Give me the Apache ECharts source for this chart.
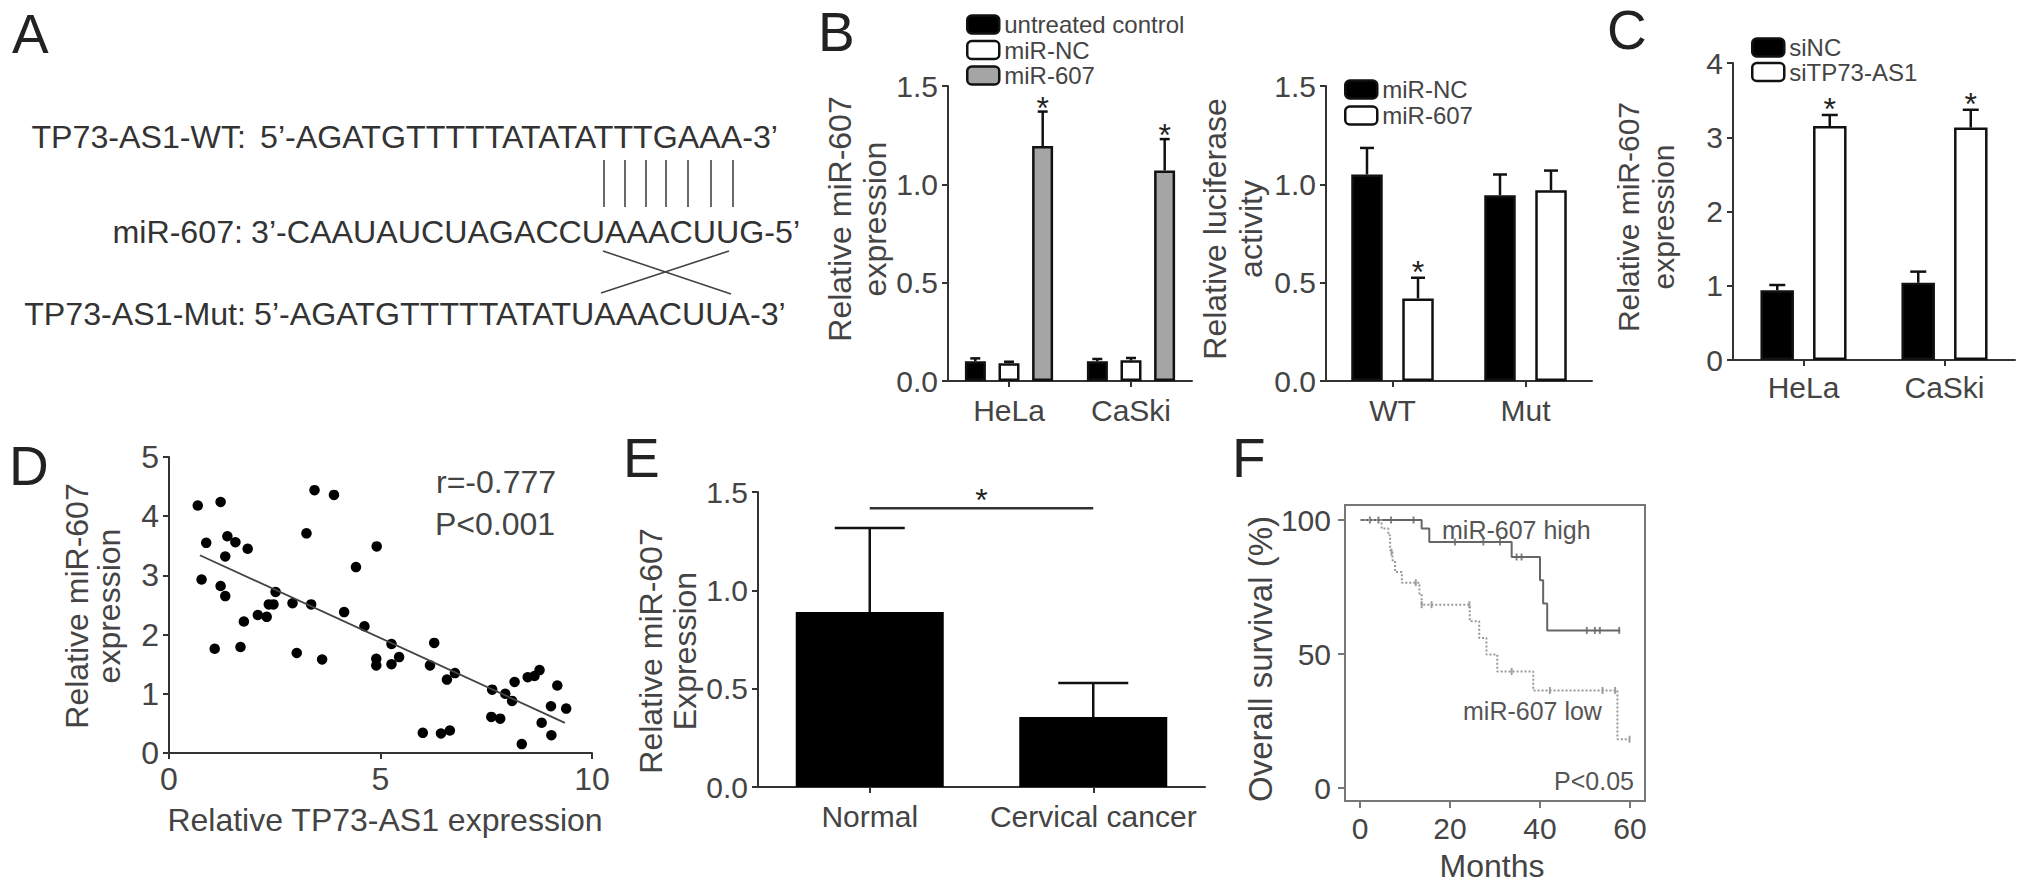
<!DOCTYPE html>
<html><head><meta charset="utf-8">
<script src="https://cdn.jsdelivr.net/npm/echarts@6/dist/echarts.min.js"></script>
<style>html,body{margin:0;padding:0;background:#fff}#c{width:2031px;height:889px}</style>
</head><body><div id="c"></div>
<script>
// ================= DATA =================
// Panel A (sequence text)
const seqLabels = ['TP73-AS1-WT:', 'miR-607:', 'TP73-AS1-Mut:'];
const seqTexts = ["5\u2019-AGATGTTTTTATATATTTGAAA-3\u2019", "3\u2019-CAAUAUCUAGACCUAAACUUG-5\u2019", "5\u2019-AGATGTTTTTATATUAAACUUA-3\u2019"];

// Panel B (left) – relative miR-607 expression
const bCategories = ['HeLa', 'CaSki'];
const bSeriesNames = ['untreated control', 'miR-NC', 'miR-607'];
const bUntreated = [0.10, 0.10];
const bUntreatedErr = [0.015, 0.012];
const bMiRNC = [0.09, 0.105];
const bMiRNCErr = [0.008, 0.012];
const bMiR607 = [1.195, 1.07];
const bMiR607Err = [0.175, 0.16];
const bMiR607Star = [1, 1];
const bYTicks = [0, 0.5, 1.0, 1.5];

// Panel B (right) – luciferase activity
const lucCategories = ['WT', 'Mut'];
const lucSeriesNames = ['miR-NC', 'miR-607'];
const lucNC = [1.05, 0.945];
const lucNCErr = [0.135, 0.105];
const luc607 = [0.42, 0.97];
const luc607Err = [0.105, 0.10];
const luc607Star = [1, 0];

// Panel C
const cCategories = ['HeLa', 'CaSki'];
const cSeriesNames = ['siNC', 'siTP73-AS1'];
const cSiNC = [0.94, 1.04];
const cSiNCErr = [0.07, 0.15];
const cSiTP = [3.15, 3.13];
const cSiTPErr = [0.15, 0.24];
const cSiTPStar = [1, 1];
const cYTicks = [0, 1, 2, 3, 4];

// Panel D – scatter [TP73-AS1, miR-607]
const dPoints = [
  [0.68,4.18],[1.22,4.24],[0.88,3.55],[1.38,3.66],[1.57,3.56],[1.86,3.45],[1.33,3.32],
  [0.77,2.93],[1.22,2.82],[1.33,2.65],[1.08,1.76],[1.77,2.22],[1.69,1.79],[2.10,2.33],
  [2.31,2.30],[2.36,2.51],[2.47,2.51],[2.52,2.72],[2.92,2.53],[3.36,2.51],[3.02,1.69],
  [3.44,4.44],[3.90,4.36],[3.25,3.71],[3.62,1.58],[4.14,2.38],[4.42,3.14],[4.62,2.14],
  [4.91,3.49],[4.90,1.59],[4.90,1.48],[5.26,1.84],[5.26,1.50],[5.44,1.62],[6.00,0.34],
  [6.17,1.48],[6.27,1.86],[6.43,0.33],[6.64,0.38],[6.57,1.24],[6.76,1.35],[7.64,1.07],
  [7.62,0.61],[7.83,0.58],[7.95,1.00],[8.11,0.88],[8.17,1.20],[8.34,0.15],[8.48,1.28],
  [8.64,1.30],[8.76,1.40],[8.81,0.51],[9.04,0.30],[9.03,0.79],[9.18,1.14],[9.39,0.75]
];
const dFitLine = [[0.73, 3.34], [9.36, 0.51]];
const dXTicks = [0, 5, 10];
const dYTicks = [0, 1, 2, 3, 4, 5];
const dStats = ['r=-0.777', 'P<0.001'];

// Panel E
const eCategories = ['Normal', 'Cervical cancer'];
const eValues = [0.89, 0.356];
const eErr = [0.427, 0.173];
const eSigLevel = 1.418;

// Panel F – Kaplan–Meier (months, survival %)
const fHighMonths = [0, 13.7, 15.4, 33.7, 40.0, 40.7, 41.6, 57.8];
const fHighSurv   = [100, 96.8, 91.8, 86.2, 77.5, 68.8, 58.8, 58.8];
const fHighCensorMonths = [2.2, 4.1, 6.9, 11.9, 21.1, 27.4, 31.1, 34.8, 35.9, 50.4, 52.2, 53.3, 57.6];
const fHighCensorSurv   = [100, 100, 100, 100, 91.8, 91.8, 91.8, 86.2, 86.2, 58.8, 58.8, 58.8, 58.8];
const fLowMonths = [0, 4.8, 6.3, 6.7, 7.2, 7.8, 9.3, 13.2, 13.7, 24.4, 26.5, 28.1, 30.5, 38.5, 57.2, 59.9];
const fLowSurv   = [100, 96.8, 94.3, 88.7, 85.0, 80.6, 76.6, 72.5, 68.4, 62.2, 56.0, 49.8, 43.5, 36.4, 18.2, 18.2];
const fLowCensorMonths = [7.0, 12.4, 13.7, 15.9, 24.3, 33.7, 42.2, 53.9, 56.7, 59.9];
const fLowCensorSurv   = [88.0, 76.6, 68.4, 68.4, 68.4, 43.5, 36.4, 36.4, 36.4, 18.2];
const fXTicks = [0, 20, 40, 60];
const fYTicks = [0, 50, 100];
const fLabels = ['miR-607 high', 'miR-607 low', 'P<0.05'];

// ================= STYLE / LAYOUT =================
const FONT = "'Liberation Sans', Arial, Helvetica, sans-serif";
const AXC = '#333';
const TXT = '#444';
const STAR_FS = 32;

function zip(a, b) { return a.map((v, i) => [v, b[i]]); }

function valueAxis(gi, ticks, fs, fmt) {
  return {
    type: 'value', gridIndex: gi, min: ticks[0], max: ticks[ticks.length - 1], interval: ticks[1] - ticks[0],
    axisLine: { show: true, onZero: false, lineStyle: { color: AXC, width: 2 } },
    axisTick: { show: true, length: 6, lineStyle: { color: AXC, width: 2 } },
    splitLine: { show: false },
    axisLabel: { fontSize: fs, color: TXT, fontFamily: FONT, margin: 10, formatter: fmt }
  };
}
function catAxis(gi, cats, fs, margin) {
  return {
    type: 'category', gridIndex: gi, data: cats,
    axisLine: { show: true, onZero: false, lineStyle: { color: AXC, width: 2 } },
    axisTick: { show: true, alignWithLabel: true, length: 6, lineStyle: { color: AXC, width: 2 } },
    axisLabel: { fontSize: fs, color: TXT, fontFamily: FONT, margin: margin, interval: 0 }
  };
}
function barSeries(gi, name, data, color, width, gap, border) {
  return {
    type: 'bar', name: name, xAxisIndex: gi, yAxisIndex: gi, data: data,
    barWidth: width, barGap: gap, silent: true,
    itemStyle: { color: color, borderColor: '#111', borderWidth: border }, z: 2
  };
}
function starText(x, y) {
  return { type: 'text', x: x, y: y,
    style: { text: '*', fontSize: STAR_FS, fontFamily: FONT, fill: '#222', align: 'center', verticalAlign: 'middle', textAlign: 'center', textVerticalAlign: 'middle' } };
}
function errSeries(gi, vals, errs, stars, offset, capW, lw, starGap) {
  return {
    type: 'custom', xAxisIndex: gi, yAxisIndex: gi, silent: true, z: 5,
    data: vals.map((v, i) => [i, v, errs[i], stars ? stars[i] : 0]),
    renderItem: function (params, api) {
      const i = api.value(0), v = api.value(1), e = api.value(2), s = api.value(3);
      const p0 = api.coord([i, v]);
      const p1 = api.coord([i, v + e]);
      const x = p0[0] + offset;
      const ch = [
        { type: 'line', shape: { x1: x, y1: p0[1], x2: x, y2: p1[1] }, style: { stroke: '#111', lineWidth: lw } },
        { type: 'line', shape: { x1: x - capW / 2, y1: p1[1], x2: x + capW / 2, y2: p1[1] }, style: { stroke: '#111', lineWidth: lw } }
      ];
      if (s) ch.push(starText(x, p1[1] - starGap));
      return { type: 'group', children: ch };
    }
  };
}
function txt(x, y, text, size, opts) {
  opts = opts || {};
  return {
    type: 'text', x: x, y: y, rotation: opts.rot || 0, silent: true, z: 10,
    style: {
      text: text, fontSize: size, fontFamily: FONT, fill: opts.color || TXT,
      align: opts.align || 'left', verticalAlign: 'middle',
      textAlign: opts.align || 'left', textVerticalAlign: 'middle',
      lineHeight: opts.lh || size
    }
  };
}
function seg(x1, y1, x2, y2, w, c) {
  return { type: 'line', silent: true, shape: { x1: x1, y1: y1, x2: x2, y2: y2 }, style: { stroke: c || '#444', lineWidth: w || 1.6 } };
}

const fmt1 = v => v.toFixed(1);

// bar geometry (pixel widths)
const B1W = 21, B1STEP = 33.7;
const B2W = 31.5, B2STEP = 51;
const CW = 33.5, CSTEP = 52.5;

const graphics = [];
// panel letters
graphics.push(txt(12, 34, 'A', 55, { color: '#222' }));
graphics.push(txt(818, 32, 'B', 55, { color: '#222' }));
graphics.push(txt(1607, 30, 'C', 55, { color: '#222' }));
graphics.push(txt(9, 466, 'D', 55, { color: '#222' }));
graphics.push(txt(623, 458, 'E', 55, { color: '#222' }));
graphics.push(txt(1232, 458, 'F', 55, { color: '#222' }));

// panel A
const seqY = [136.5, 231.5, 313.5];
const labelRight = [246, 243, 246];
const seqLeft = [260, 251, 254];
seqLabels.forEach((t, i) => graphics.push(txt(labelRight[i], seqY[i], t, 32.2, { align: 'right', color: '#333' })));
seqTexts.forEach((t, i) => graphics.push(txt(seqLeft[i], seqY[i], t, 32.2, { align: 'left', color: '#333' })));
[604, 625, 646, 666, 688, 711, 733].forEach(x => graphics.push(seg(x, 160, x, 207)));
graphics.push(seg(603, 251, 731, 294));
graphics.push(seg(729, 251, 601, 293));

// axis titles
graphics.push(txt(857, 219, 'Relative miR-607\nexpression', 32, { align: 'center', rot: Math.PI / 2, lh: 35 }));
graphics.push(txt(1233, 229, 'Relative luciferase\nactivity', 32, { align: 'center', rot: Math.PI / 2, lh: 36 }));
graphics.push(txt(1646, 217, 'Relative miR-607\nexpression', 30, { align: 'center', rot: Math.PI / 2, lh: 35 }));
graphics.push(txt(93, 606, 'Relative miR-607\nexpression', 32, { align: 'center', rot: Math.PI / 2, lh: 32 }));
graphics.push(txt(385, 820, 'Relative TP73-AS1 expression', 32, { align: 'center' }));
graphics.push(txt(668, 651, 'Relative miR-607\nExpression', 32, { align: 'center', rot: Math.PI / 2, lh: 34 }));
graphics.push(txt(1260, 659, 'Overall survival (%)', 33, { align: 'center', rot: Math.PI / 2 }));
graphics.push(txt(1492, 866, 'Months', 32, { align: 'center' }));

// panel D stats
graphics.push(txt(436, 482, dStats[0], 32));
graphics.push(txt(435, 524, dStats[1], 32));

// panel F labels
graphics.push(txt(1442, 530, fLabels[0], 25, { color: '#555' }));
graphics.push(txt(1463, 711, fLabels[1], 25, { color: '#555' }));
graphics.push(txt(1634, 781, fLabels[2], 25, { color: '#555', align: 'right' }));

const legendText = { fontSize: 24, color: '#444', fontFamily: FONT };
const legendBase = { orient: 'vertical', itemWidth: 32, itemHeight: 18, icon: 'roundRect', selectedMode: false, padding: 0,
  textStyle: legendText, itemStyle: { borderColor: '#111', borderWidth: 2.5 } };

const option = {
  animation: false,
  backgroundColor: '#fff',
  textStyle: { fontFamily: FONT },
  grid: [
    { left: 948, top: 86, width: 244, height: 295 },
    { left: 1326, top: 86, width: 266, height: 295 },
    { left: 1733, top: 63, width: 282, height: 297 },
    { left: 169, top: 457, width: 423, height: 296 },
    { left: 758, top: 492, width: 447, height: 295 },
    { left: 1345, top: 505, width: 300, height: 296, show: true, borderColor: '#777', borderWidth: 2, backgroundColor: 'transparent' }
  ],
  legend: [
    Object.assign({}, legendBase, { left: 966, top: 12.5, itemGap: 1.5, data: bSeriesNames }),
    Object.assign({}, legendBase, { left: 1344, top: 77.5, itemGap: 2, data: [
      { name: lucSeriesNames[0], itemStyle: { color: '#000' } },
      { name: lucSeriesNames[1], itemStyle: { color: '#fff' } }] }),
    Object.assign({}, legendBase, { left: 1751, top: 35.5, itemGap: 0.5, data: cSeriesNames })
  ],
  xAxis: [
    catAxis(0, bCategories, 30, 14),
    catAxis(1, lucCategories, 30, 14),
    catAxis(2, cCategories, 30, 12),
    { type: 'value', gridIndex: 3, min: dXTicks[0], max: dXTicks[dXTicks.length - 1], interval: dXTicks[1] - dXTicks[0],
      axisLine: { show: true, onZero: false, lineStyle: { color: AXC, width: 2 } },
      axisTick: { show: true, length: 6, lineStyle: { color: AXC, width: 2 } },
      splitLine: { show: false }, axisLabel: { fontSize: 32, color: TXT, fontFamily: FONT, margin: 10 } },
    catAxis(4, eCategories, 30, 14),
    { type: 'value', gridIndex: 5, min: -3.33, max: 63.33,
      axisLine: { show: false, onZero: false },
      axisTick: { show: true, inside: false, length: 7, customValues: fXTicks, lineStyle: { color: '#777', width: 2 } },
      splitLine: { show: false },
      axisLabel: { fontSize: 30, color: TXT, fontFamily: FONT, margin: 12, customValues: fXTicks } }
  ],
  yAxis: [
    valueAxis(0, bYTicks, 30, fmt1),
    valueAxis(1, bYTicks, 30, fmt1),
    valueAxis(2, cYTicks, 30),
    valueAxis(3, dYTicks, 32),
    valueAxis(4, bYTicks, 30, fmt1),
    { type: 'value', gridIndex: 5, min: -4.85, max: 105.6,
      axisLine: { show: false, onZero: false },
      axisTick: { show: true, inside: false, length: 7, customValues: fYTicks, lineStyle: { color: '#777', width: 2 } },
      splitLine: { show: false },
      axisLabel: { fontSize: 30, color: TXT, fontFamily: FONT, margin: 14, customValues: fYTicks } }
  ],
  graphic: graphics,
  series: [
    // B left
    barSeries(0, bSeriesNames[0], bUntreated, '#000', B1W, '60%', 2.5),
    barSeries(0, bSeriesNames[1], bMiRNC, '#fff', B1W, '60%', 2.5),
    barSeries(0, bSeriesNames[2], bMiR607, '#a5a5a5', B1W, '60%', 2.5),
    errSeries(0, bUntreated, bUntreatedErr, null, -B1STEP, 10, 2.5, 4),
    errSeries(0, bMiRNC, bMiRNCErr, null, 0, 10, 2.5, 4),
    errSeries(0, bMiR607, bMiR607Err, bMiR607Star, B1STEP, 10, 2.5, 4),
    // B right
    barSeries(1, lucSeriesNames[0], lucNC, '#000', B2W, '62%', 2.5),
    barSeries(1, lucSeriesNames[1], luc607, '#fff', B2W, '62%', 2.5),
    errSeries(1, lucNC, lucNCErr, null, -B2STEP / 2, 14, 2.5, 6),
    errSeries(1, luc607, luc607Err, luc607Star, B2STEP / 2, 14, 2.5, 6),
    // C
    barSeries(2, cSeriesNames[0], cSiNC, '#000', CW, '57%', 2.5),
    barSeries(2, cSeriesNames[1], cSiTP, '#fff', CW, '57%', 2.5),
    errSeries(2, cSiNC, cSiNCErr, null, -CSTEP / 2, 16, 2.5, 6),
    errSeries(2, cSiTP, cSiTPErr, cSiTPStar, CSTEP / 2, 16, 2.5, 6),
    // D
    { type: 'scatter', xAxisIndex: 3, yAxisIndex: 3, data: dPoints, symbolSize: 10.5, itemStyle: { color: '#000', opacity: 1 }, silent: true },
    { type: 'line', xAxisIndex: 3, yAxisIndex: 3, data: dFitLine, symbol: 'none', lineStyle: { color: '#444', width: 1.8 }, silent: true },
    // E
    { type: 'bar', xAxisIndex: 4, yAxisIndex: 4, data: eValues, barWidth: 148, itemStyle: { color: '#000' }, silent: true },
    errSeries(4, eValues, eErr, null, 0, 70, 2.5, 6),
    { type: 'custom', xAxisIndex: 4, yAxisIndex: 4, silent: true, z: 5, data: [[0, 1, eSigLevel]],
      renderItem: function (params, api) {
        const a = api.coord([api.value(0), api.value(2)]);
        const b = api.coord([api.value(1), api.value(2)]);
        return { type: 'group', children: [
          { type: 'line', shape: { x1: a[0], y1: a[1], x2: b[0], y2: b[1] }, style: { stroke: '#333', lineWidth: 2.5 } },
          starText((a[0] + b[0]) / 2, a[1] - 8)
        ] };
      } },
    // F
    { type: 'line', xAxisIndex: 5, yAxisIndex: 5, data: zip(fHighMonths, fHighSurv), step: 'end', symbol: 'none',
      lineStyle: { color: '#666', width: 2 }, silent: true },
    { type: 'line', xAxisIndex: 5, yAxisIndex: 5, data: zip(fLowMonths, fLowSurv), step: 'end', symbol: 'none',
      lineStyle: { color: '#999', width: 2, type: 'dotted' }, silent: true },
    { type: 'scatter', xAxisIndex: 5, yAxisIndex: 5, data: zip(fHighCensorMonths, fHighCensorSurv), symbol: 'rect', symbolSize: [2, 7],
      itemStyle: { color: '#666' }, silent: true },
    { type: 'scatter', xAxisIndex: 5, yAxisIndex: 5, data: zip(fLowCensorMonths, fLowCensorSurv), symbol: 'rect', symbolSize: [2, 7],
      itemStyle: { color: '#888' }, silent: true }
  ]
};

const chart = echarts.init(document.getElementById('c'), null, { renderer: 'svg', width: 2031, height: 889 });
chart.setOption(option);
</script>
</body></html>
